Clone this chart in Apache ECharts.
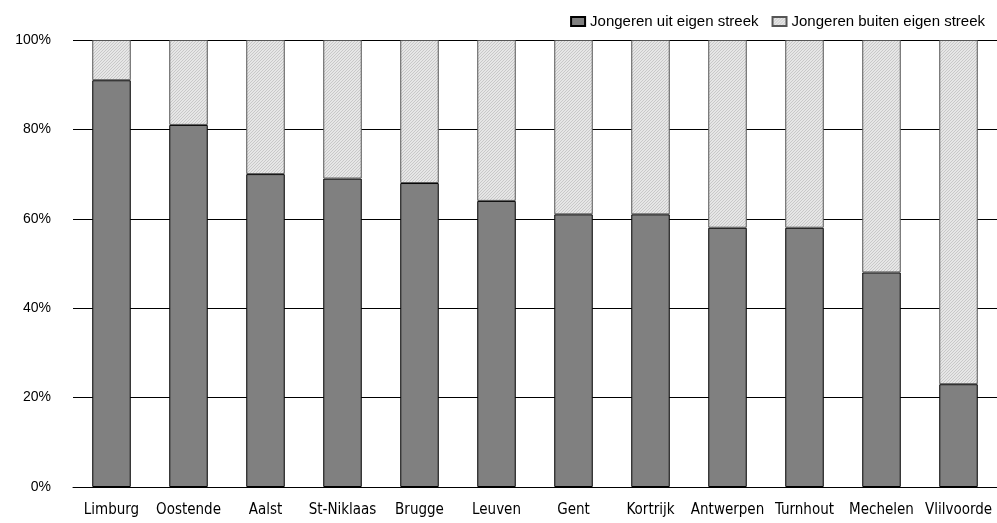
<!DOCTYPE html>
<html>
<head>
<meta charset="utf-8">
<script src="https://cdn.jsdelivr.net/npm/echarts@6/dist/echarts.min.js"></script>
<style>
  html, body { margin: 0; padding: 0; background: #fff; }
  #main { width: 997px; height: 523px; }
</style>
</head>
<body>
<div id="main"></div>
<script>
const regions = ["Limburg", "Oostende", "Aalst", "St-Niklaas", "Brugge", "Leuven", "Gent", "Kortrijk", "Antwerpen", "Turnhout", "Mechelen", "Vlilvoorde"]
const eigenStreek = [91, 81, 70, 69, 68, 64, 61, 61, 58, 58, 48, 23]
const buitenStreek = [9, 19, 30, 31, 32, 36, 39, 39, 42, 42, 52, 77]

// fijn gearceerd patroon voor de tweede reeks
function makeHatch() {
  const c = document.createElement("canvas")
  c.width = 3
  c.height = 3
  const ctx = c.getContext("2d")
  ctx.fillStyle = "#e6e6e6"
  ctx.fillRect(0, 0, 3, 3)
  ctx.fillStyle = "#c8c8c8"
  ctx.fillRect(2, 0, 1, 1)
  ctx.fillRect(1, 1, 1, 1)
  ctx.fillRect(0, 2, 1, 1)
  return c
}
const hatch = { image: makeHatch(), repeat: "repeat" }

const chart = echarts.init(document.getElementById("main"))
chart.setOption({
  animation: false,
  textStyle: { fontFamily: "'Liberation Sans', Arial, sans-serif" },
  legend: {
    right: 7,
    top: 9,
    icon: "rect",
    itemWidth: 14,
    itemHeight: 9,
    itemGap: 13,
    textStyle: { fontSize: 15, color: "#000" },
    data: ["Jongeren uit eigen streek", "Jongeren buiten eigen streek"]
  },
  grid: { left: 73, right: 0, top: 40, bottom: 36 },
  xAxis: {
    type: "category",
    data: regions,
    axisLine: { lineStyle: { color: "#000" } },
    axisTick: { show: false },
    axisLabel: {
      interval: 0,
      color: "#000",
      fontSize: 15,
      fontFamily: "'Liberation Sans Narrow', 'Arial Narrow', 'DejaVu Sans Condensed', sans-serif",
      margin: 16
    }
  },
  yAxis: {
    type: "value",
    min: 0,
    max: 100,
    interval: 20,
    axisLabel: { formatter: "{value}%", color: "#000", fontSize: 14, margin: 22 },
    splitLine: { lineStyle: { color: "#000", width: 1 } },
    axisLine: { show: false },
    axisTick: { show: false }
  },
  series: [
    {
      name: "Jongeren uit eigen streek",
      type: "bar",
      stack: "totaal",
      barWidth: "50%",
      data: eigenStreek,
      itemStyle: { color: "#808080", borderColor: "#000", borderWidth: 1 }
    },
    {
      name: "Jongeren buiten eigen streek",
      type: "bar",
      stack: "totaal",
      barWidth: "50%",
      data: buitenStreek,
      itemStyle: { color: hatch, borderColor: "#555", borderWidth: 1 }
    }
  ]
})
</script>
</body>
</html>
